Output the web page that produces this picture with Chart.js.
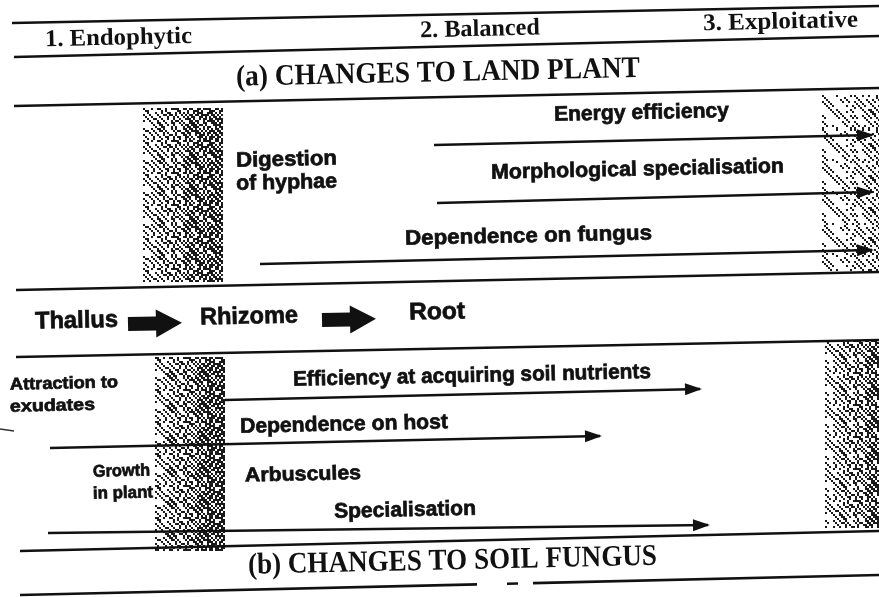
<!DOCTYPE html>
<html>
<head>
<meta charset="utf-8">
<script src="https://cdn.jsdelivr.net/npm/chart.js@4"></script>
<style>
  html, body { margin: 0; background: #fff; }
  #wrap { width: 879px; height: 597px; position: relative; }
</style>
</head>
<body>
<div id="wrap"><canvas id="diagram"></canvas></div>
<script>
// Stages along the top
const stageNames = ["1. Endophytic", "2. Balanced", "3. Exploitative"]
const sectionTitles = ["(a) CHANGES TO LAND PLANT", "(b) CHANGES TO SOIL FUNGUS"]

// Trends drawn as arrows (x runs over the page width, y down the page)
const arrowNames = [
  "Energy efficiency",
  "Morphological specialisation",
  "Dependence on fungus",
  "Efficiency at acquiring soil nutrients",
  "Dependence on host",
  "Specialisation"
]
const arrowFromX = [434, 437, 260, 225, 50, 48]
const arrowToX = [872, 872, 872, 700, 600, 708]
const arrowFromY = [145, 203, 264, 400, 448, 533]
const arrowToY = [135, 192, 250, 389, 436, 525]

// Organ sequence in the middle
const organNames = ["Thallus", "Rhizome", "Root"]

// Other notes
const plantNotes = ["Digestion", "of hyphae"]
const fungusNotes = ["Attraction to", "exudates", "Growth", "in plant", "Arbuscules"]

// Horizontal rules (page is slightly skewed in the scan; bottom rule is broken)
const ruleFromX = [12, 14, 14, 16, 16, 20, 20, 507, 533]
const ruleFromY = [23, 57, 106, 290, 357, 551, 595, 583.7, 583.1]
const ruleToX = [879, 879, 879, 879, 879, 879, 477, 518, 879]
const ruleToY = [6, 36, 88, 272, 340, 531, 584.4, 583.5, 575]

// stray scan mark at the left edge
const markX = [0, 14]
const markY = [429, 431]

// Layout for text: [text, left, centreY, width, fontSize, serif?]
const textLayout = [
  [stageNames[0], 45, 40, 147, 24, true],
  [stageNames[1], 420, 31, 120, 24, true],
  [stageNames[2], 703, 24, 155, 24, true],
  [sectionTitles[0], 236, 78, 404, 30, true],
  [sectionTitles[1], 248, 566, 409, 30, true],
  [arrowNames[0], 554, 115, 175, 21, false],
  [arrowNames[1], 491, 173, 293, 21, false],
  [arrowNames[2], 405, 239, 247, 21, false],
  [arrowNames[3], 293, 380, 358, 21, false],
  [arrowNames[4], 240, 427, 208, 21, false],
  [arrowNames[5], 334, 512, 142, 21, false],
  [plantNotes[0], 236, 161, 101, 21, false],
  [plantNotes[1], 236, 184, 101, 21, false],
  [organNames[0], 35, 322, 83, 24, false],
  [organNames[1], 200, 318, 98, 24, false],
  [organNames[2], 409, 313, 56, 24, false],
  [fungusNotes[0], 10, 385, 108, 17, false],
  [fungusNotes[1], 10, 407, 85, 17, false],
  [fungusNotes[2], 93, 472, 57, 17, false],
  [fungusNotes[3], 93, 494, 60, 17, false],
  [fungusNotes[4], 245, 476, 116, 20, false]
]

// Block arrows between organs: [left, centreY]
const blockArrows = [[128, 324], [322, 320]]

// Speckled scan bands: [x1, x2, y1, y2, density]
const bands = [
  [143, 222, 108, 282, 0.8],
  [155, 225, 357, 550, 0.85],
  [822, 879, 95, 270, 0.3],
  [825, 879, 340, 528, 0.65]
]

const TILT = -0.022

const ruleSets = ruleFromX.map((x, i) => ({
  type: "line",
  data: [{ x, y: ruleFromY[i] }, { x: ruleToX[i], y: ruleToY[i] }],
  borderColor: "#111",
  borderWidth: 2.6,
  pointRadius: 0,
  tension: 0
}))

const markSet = {
  type: "line",
  data: markX.map((x, i) => ({ x, y: markY[i] })),
  borderColor: "#333",
  borderWidth: 1.5,
  pointRadius: 0,
  tension: 0
}

const arrowSets = arrowNames.map((name, i) => ({
  type: "line",
  label: name,
  data: [{ x: arrowFromX[i], y: arrowFromY[i] }, { x: arrowToX[i], y: arrowToY[i] }],
  borderColor: "#111",
  borderWidth: 2.4,
  pointRadius: 0,
  tension: 0,
  isArrow: true
}))

// fixed speckle bitmap used to texture the bands
const SPECKLE = [
  "1101110111011011",
  "0111101101110110",
  "1110111011011101",
  "1011011110110111",
  "1101101011101101",
  "0110111101011011",
  "1111010110111010",
  "1011101111010111",
  "0101111011101101",
  "1110101101111011",
  "1011110110101110",
  "0111011011110101",
  "1101101110111011",
  "1010111101101110",
  "1111011010111101",
  "0110110111011011"
]

function speckle(ctx, x1, y1, x2, y2, density) {
  ctx.save()
  ctx.fillStyle = "#1a1a1a"
  const cell = 2
  for (let y = y1; y < y2; y += cell) {
    for (let x = x1; x < x2; x += cell) {
      const r = Math.floor((y - y1) / cell) % 16
      const c = Math.floor((x - x1) / cell) % 16
      const on = SPECKLE[r][c] === "1"
      const t = (x - x1) / (x2 - x1)
      const keep = ((r * 7 + c * 13) % 10) / 10 < density * (0.35 + 0.8 * t)
      if (on && keep) ctx.fillRect(x, y, cell, cell)
    }
  }
  ctx.restore()
}

const decor = {
  id: "decor",
  beforeDatasetsDraw(chart) {
    const { ctx, scales: { x, y } } = chart
    bands.forEach(([a, b, c, d, k]) => {
      speckle(ctx, x.getPixelForValue(a), y.getPixelForValue(c),
        x.getPixelForValue(b), y.getPixelForValue(d), k)
    })
  },
  afterDatasetsDraw(chart) {
    const { ctx, scales: { x, y } } = chart
    ctx.save()
    ctx.fillStyle = "#111"
    ctx.strokeStyle = "#111"
    // arrow heads
    chart.data.datasets.forEach(ds => {
      if (!ds.isArrow) return
      const p0 = ds.data[0], p1 = ds.data[1]
      const x0 = x.getPixelForValue(p0.x), y0 = y.getPixelForValue(p0.y)
      const x1 = x.getPixelForValue(p1.x), y1 = y.getPixelForValue(p1.y)
      ctx.save()
      ctx.translate(x1, y1)
      ctx.rotate(Math.atan2(y1 - y0, x1 - x0))
      ctx.beginPath()
      ctx.moveTo(2, 0)
      ctx.lineTo(-15, -6)
      ctx.lineTo(-15, 6)
      ctx.closePath()
      ctx.fill()
      ctx.restore()
    })
    // block arrows
    blockArrows.forEach(([bx, by]) => {
      const px = x.getPixelForValue(bx), py = y.getPixelForValue(by)
      ctx.save()
      ctx.translate(px, py)
      ctx.rotate(TILT)
      ctx.beginPath()
      ctx.moveTo(0, -7)
      ctx.lineTo(28, -7)
      ctx.lineTo(28, -14)
      ctx.lineTo(54, 0)
      ctx.lineTo(28, 14)
      ctx.lineTo(28, 7)
      ctx.lineTo(0, 7)
      ctx.closePath()
      ctx.fill()
      ctx.restore()
    })
    // text
    ctx.textBaseline = "middle"
    textLayout.forEach(([text, lx, cy, w, size, serif]) => {
      ctx.font = serif
        ? `bold ${size}px "Liberation Serif", "DejaVu Serif", serif`
        : `bold ${size}px "Liberation Sans", Arial, sans-serif`
      const natural = ctx.measureText(text).width
      ctx.save()
      ctx.translate(x.getPixelForValue(lx), y.getPixelForValue(cy))
      ctx.rotate(TILT)
      ctx.scale(w / natural, 1)
      ctx.fillText(text, 0, 0)
      if (!serif) {
        ctx.lineWidth = 0.7
        ctx.strokeText(text, 0, 0)
      }
      ctx.restore()
    })
    ctx.restore()
  }
}

new Chart(document.getElementById("diagram"), {
  type: "scatter",
  data: { datasets: [...ruleSets, markSet, ...arrowSets] },
  options: {
    responsive: true,
    maintainAspectRatio: false,
    animation: false,
    layout: { padding: 0 },
    plugins: { legend: { display: false }, tooltip: { enabled: false } },
    scales: {
      x: { type: "linear", min: 0, max: 879, display: false },
      y: { type: "linear", min: 0, max: 597, reverse: true, display: false }
    }
  },
  plugins: [decor]
})
</script>
</body>
</html>
